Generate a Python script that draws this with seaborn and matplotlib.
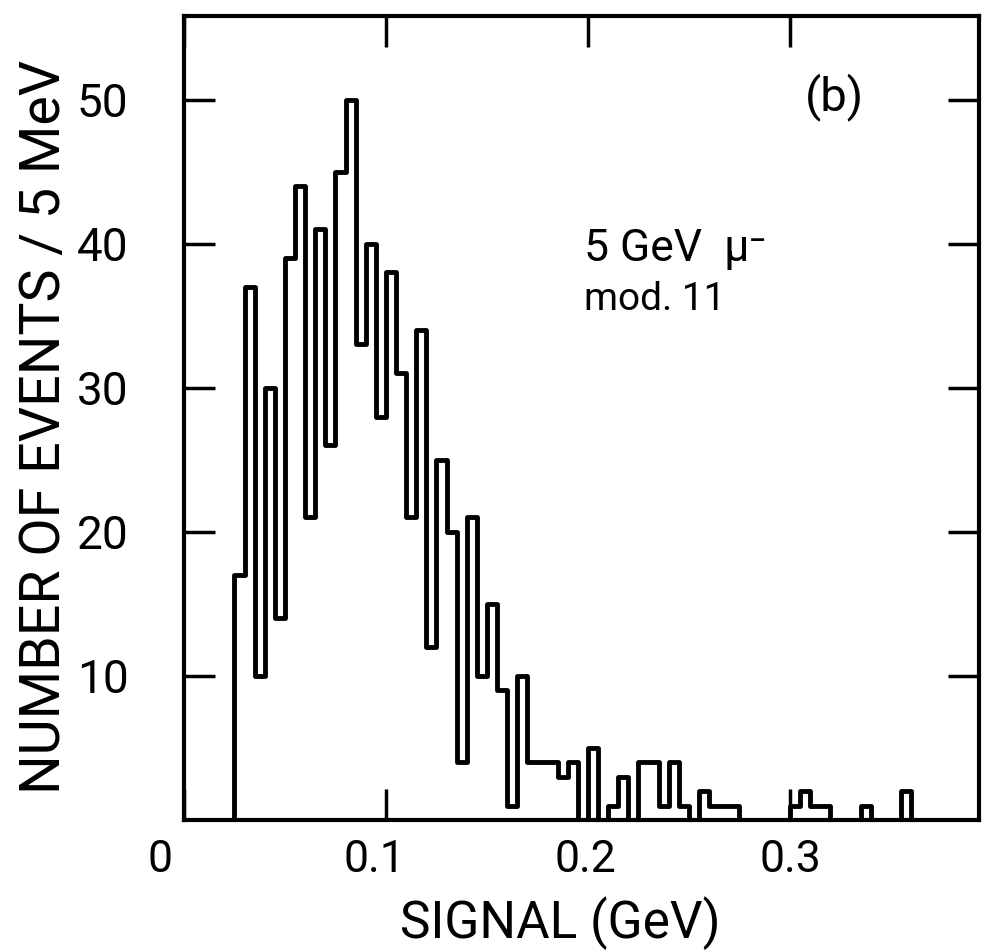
import numpy as np
import pandas as pd
import matplotlib
matplotlib.use("Agg")
import matplotlib.pyplot as plt
import matplotlib.transforms as mtransforms
import seaborn as sns

# ---- data ----
bin_width = 0.005          # GeV (5 MeV bins)
first_edge = 0.025         # GeV, lower edge of first filled bin
counts = [17, 37, 10, 30, 14, 39, 44, 21, 41, 26,
          45, 50, 33, 40, 28, 38, 31, 21, 34, 12,
          25, 20, 4, 21, 10, 15, 9, 1, 10, 4,
          4, 4, 3, 4, 0, 5, 0, 1, 3, 0,
          4, 4, 1, 4, 1, 0, 2, 1, 1, 1,
          0, 0, 0, 0, 0, 1, 2, 1, 1, 0,
          0, 0, 1, 0, 0, 0, 2, 0, 0, 0,
          0, 0, 0]
x_ticks = [0.0, 0.1, 0.2, 0.3]
x_ticklabels = ["0", "0.1", "0.2", "0.3"]
y_ticks = [10, 20, 30, 40, 50]
y_ticklabels = ["10", "20", "30", "40", "50"]

centers = first_edge + bin_width * (np.arange(len(counts)) + 0.5)
df = pd.DataFrame({"signal": centers, "n": np.array(counts, dtype=float)})
range_lo = first_edge - bin_width
range_hi = first_edge + bin_width * len(counts)

sns.set_theme(style="ticks")
plt.rcParams['font.family'] = ['Roboto', 'DejaVu Sans']
plt.rcParams['axes.linewidth'] = 3

fig = plt.figure(figsize=(9.86, 9.52), dpi=100)
ax = fig.add_axes([0.1866, 0.1387, 0.8063, 0.8445])

sns.histplot(data=df, x="signal", weights="n", binwidth=bin_width,
             binrange=(range_lo, range_hi), element="step", fill=False,
             color="black", linewidth=3.5, ax=ax)

ax.set_xlim(0, 0.3936)
ax.set_ylim(0, 55.8)

ax.set_xticks(x_ticks)
ax.set_xticklabels(x_ticklabels)
ax.set_yticks(y_ticks)
ax.set_yticklabels(y_ticklabels)
ax.tick_params(axis='x', direction='in', length=22, width=2.5, top=True,
               labelsize=32, pad=14, colors='black')
ax.tick_params(axis='y', direction='in', length=22, width=2.5, right=True,
               labelsize=33, pad=40, colors='black')
for spine in ax.spines.values():
    spine.set_color('black')
    spine.set_linewidth(3)

# small horizontal nudges of the x tick labels (as placed in the original)
label_shifts_px = [-24, -12, -3, 0]
for lab, dx in zip(ax.get_xticklabels(), label_shifts_px):
    off = mtransforms.ScaledTranslation(dx / 100, 0, fig.dpi_scale_trans)
    lab.set_transform(lab.get_transform() + off)

ax.set_xlabel("SIGNAL (GeV)", fontsize=37, color='black')
ax.xaxis.set_label_coords(0.473, -0.095)
ax.set_ylabel("NUMBER OF EVENTS / 5 MeV", fontsize=40, color='black')
ax.yaxis.set_label_coords(-0.142, 0.489)

ax.text(0.322, 50.2, "(b)", ha='center', va='center', fontsize=34, color='black')
ax.text(0.198, 39.6, "5 GeV  \u03bc\u207b", ha='left', va='center', fontsize=32, color='black')
ax.text(0.198, 36.1, "mod. 11", ha='left', va='center', fontsize=28, color='black')

fig.savefig("out.png", dpi=100, facecolor='white')
